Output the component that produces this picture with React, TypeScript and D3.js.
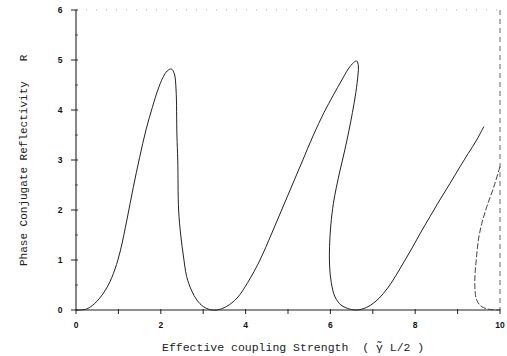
import * as d3 from 'd3'

// R vs effective coupling strength
const mainX = [0, 0.25, 0.5, 0.75, 0.92, 1.05, 1.2, 1.35, 1.5, 1.65, 1.8, 1.93, 2.05, 2.15, 2.25, 2.32, 2.36, 2.38, 2.4, 2.42, 2.47, 2.53, 2.61, 2.72, 2.85, 3.0, 3.15, 3.32, 3.55, 3.8, 4.05, 4.34, 4.6, 4.85, 5.1, 5.35, 5.6, 5.85, 6.07, 6.27, 6.42, 6.55, 6.62, 6.66, 6.65, 6.6, 6.52, 6.44, 6.34, 6.23, 6.14, 6.07, 6.01, 5.98, 5.98, 6.02, 6.11, 6.25, 6.45, 6.63, 6.85, 7.05, 7.25, 7.45, 7.65, 7.9, 8.11, 8.35, 8.58, 8.82, 9.06, 9.25, 9.45, 9.62]
const mainR = [0, 0.02, 0.18, 0.48, 0.82, 1.2, 1.8, 2.45, 3.05, 3.6, 4.05, 4.4, 4.65, 4.78, 4.82, 4.72, 4.4, 3.5, 3.0, 2.0, 1.5, 1.1, 0.67, 0.4, 0.2, 0.07, 0.01, 0, 0.07, 0.24, 0.55, 1.0, 1.5, 2.0, 2.5, 3.0, 3.5, 3.95, 4.3, 4.6, 4.82, 4.95, 4.98, 4.88, 4.7, 4.35, 3.95, 3.6, 3.2, 2.8, 2.45, 2.13, 1.7, 1.27, 0.9, 0.55, 0.26, 0.1, 0.02, 0, 0.05, 0.16, 0.33, 0.56, 0.84, 1.2, 1.52, 1.87, 2.2, 2.53, 2.87, 3.13, 3.4, 3.67]

const edgeX = [10, 9.85, 9.69, 9.57, 9.49, 9.44, 9.41, 9.41, 9.45, 9.55, 9.7, 9.85, 10]
const edgeR = [2.87, 2.45, 2.07, 1.73, 1.4, 1.0, 0.7, 0.4, 0.2, 0.08, 0.02, 0.005, 0]

const xTicks = [0, 1, 2, 3, 4, 5, 6, 7, 8, 9, 10]
const xLabels = ['0', '2', '4', '6', '8', '10']
const yTicks = [0, 1, 2, 3, 4, 5, 6]
const yMinor = [0.5, 1.5, 2.5, 3.5, 4.5, 5.5]

const W = 507
const H = 356
const left = 76
const right = 500
const top = 10
const bottom = 310

export default function App() {
  const x = d3.scaleLinear().domain([0, 10]).range([left, right])
  const y = d3.scaleLinear().domain([0, 6]).range([bottom, top])

  const line = d3
    .line<[number, number]>()
    .x((d) => x(d[0]))
    .y((d) => y(d[1]))
    .curve(d3.curveCatmullRom.alpha(0.5))

  const main = line(mainX.map((v, i) => [v, mainR[i]] as [number, number]))
  const edge = line(edgeX.map((v, i) => [v, edgeR[i]] as [number, number]))

  const tickFont = { fontFamily: 'Liberation Sans, Arial, sans-serif', fontSize: 8.5, fontWeight: 700, fill: '#111' }
  const textFont = { fontFamily: 'Liberation Mono, DejaVu Sans Mono, monospace', fontSize: 11.5, fill: '#222' }

  return (
    <svg
      width={W}
      height={H}
      style={{ position: 'absolute', left: 0, top: 0, background: '#fff' }}
    >
      {/* faint frame, top and right */}
      <line x1={left} x2={right} y1={top} y2={top} stroke="#999" strokeWidth={0.8} strokeDasharray="1,9" />
      <line x1={right} x2={right} y1={top} y2={bottom} stroke="#555" strokeWidth={0.9} strokeDasharray="5,4" />

      {/* axes */}
      <line x1={left} x2={left} y1={top} y2={bottom} stroke="#222" strokeWidth={1.1} />
      <line x1={left} x2={right} y1={bottom} y2={bottom} stroke="#222" strokeWidth={1.1} />

      {yTicks.map((t) => (
        <g key={'y' + t}>
          <line x1={left - 5} x2={left + 2} y1={y(t)} y2={y(t)} stroke="#222" strokeWidth={1} />
          <text x={60} y={y(t)} dy="0.35em" textAnchor="middle" {...tickFont}>
            {t}
          </text>
        </g>
      ))}
      {yMinor.map((t) => (
        <line key={'ym' + t} x1={left - 1} x2={left + 2} y1={y(t)} y2={y(t)} stroke="#333" strokeWidth={0.8} />
      ))}

      {xTicks.map((t) => (
        <line key={'x' + t} x1={x(t)} x2={x(t)} y1={bottom - 1} y2={bottom + 4} stroke="#222" strokeWidth={1} />
      ))}
      {xLabels.map((t) => (
        <text key={'xl' + t} x={x(+t)} y={328} textAnchor="middle" {...tickFont}>
          {t}
        </text>
      ))}

      {/* curves */}
      <path d={main ?? ''} fill="none" stroke="#222" strokeWidth={1} />
      <path d={edge ?? ''} fill="none" stroke="#444" strokeWidth={1} strokeDasharray="6,2" />

      {/* axis titles */}
      <text x={162} y={351} {...textFont} style={{ whiteSpace: 'pre' }}>
        {'Effective coupling Strength  ( γ̃ L/2 )'}
      </text>
      <text
        transform="translate(27,266) rotate(-90)"
        {...textFont}
        fontSize={11}
        style={{ whiteSpace: 'pre' }}
      >
        {'Phase Conjugate Reflectivity   R'}
      </text>
    </svg>
  )
}
